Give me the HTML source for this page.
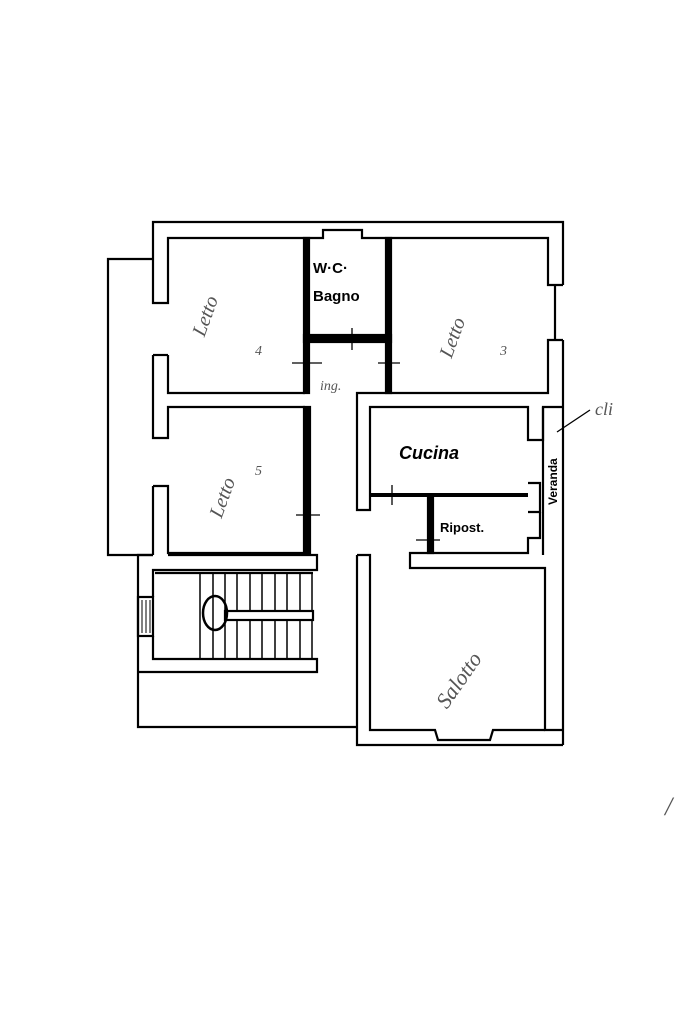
<!DOCTYPE html>
<html><head><meta charset="utf-8"><style>
html,body{margin:0;padding:0;background:#fff;}
svg{display:block}
text{font-family:"Liberation Sans",sans-serif;font-weight:bold;fill:#000}
.h{font-family:"Liberation Serif",serif;font-style:italic;font-weight:normal;fill:#555}
</style></head><body>
<svg width="683" height="1023" viewBox="0 0 683 1023" xmlns="http://www.w3.org/2000/svg">
<g fill="none" stroke="#000" stroke-width="2.2" stroke-linejoin="miter">
<!-- balcony left -->
<polyline points="153,259 108,259 108,555 153,555"/>
<!-- outer top / left walls -->
<polyline points="153,259 153,222 563,222 563,285"/>
<polyline points="153,259 153,303 168,303 168,238 305,238"/>
<polyline points="168,238 168,0" stroke="none"/>
<!-- window top (WC) -->
<polyline points="305,238 323,238 323,230 362,230 362,238 390,238"/>
<polyline points="390,238 548,238 548,285 563,285"/>
<line x1="555" y1="285" x2="555" y2="340"/>
<polyline points="563,340 548,340 548,393 390,393"/>
<polyline points="563,340 563,555"/>
<!-- left wall openings -->
<polyline points="153,355 153,438 168,438 168,407 305,407"/>
<polyline points="168,355 168,393 305,393"/>
<line x1="153" y1="355" x2="168" y2="355"/>
<polyline points="153,486 168,486 168,553 305,553"/>
<line x1="153" y1="486" x2="153" y2="555"/>
<!-- WC walls -->
<rect x="304" y="238" width="5" height="155" fill="#000"/>
<rect x="386" y="238" width="5" height="155" fill="#000"/>
<rect x="304" y="335" width="87" height="7" fill="#000"/>
<rect x="304" y="407" width="6" height="146" fill="#000"/>
<!-- corridor / cucina -->
<polyline points="390,393 357,393 357,510 370,510 370,407 528,407 528,440 543,440 543,407 563,407"/>
<line x1="370" y1="495" x2="528" y2="495" stroke-width="4"/>
<rect x="428" y="497" width="5" height="56" fill="#000"/>
<polyline points="528,483 540,483 540,512 528,512"/>
<line x1="543" y1="407" x2="543" y2="555"/>
<polyline points="540,512 540,538 528,538 528,553 410,553 410,568 545,568 545,730 563,730"/>
<line x1="563" y1="555" x2="563" y2="745"/>
<!-- lower left stairs block -->
<polyline points="153,555 138,555 138,727 357,727"/>
<polyline points="168,555 317,555 317,570 153,570 153,597"/>
<polyline points="153,636 153,659 317,659 317,672 138,672"/>
<rect x="138" y="597" width="15" height="39"/>
<line x1="142" y1="600" x2="142" y2="633" stroke-width="1"/>
<line x1="146" y1="600" x2="146" y2="633" stroke-width="1"/>
<line x1="150" y1="600" x2="150" y2="633" stroke-width="1"/>
<polyline points="155,573 313,573"/>
<g stroke-width="1.5">
<line x1="200" y1="573" x2="200" y2="659"/><line x1="213" y1="573" x2="213" y2="659"/>
<line x1="225" y1="573" x2="225" y2="659"/><line x1="237" y1="573" x2="237" y2="659"/>
<line x1="250" y1="573" x2="250" y2="659"/><line x1="262" y1="573" x2="262" y2="659"/>
<line x1="275" y1="573" x2="275" y2="659"/><line x1="287" y1="573" x2="287" y2="659"/>
<line x1="300" y1="573" x2="300" y2="659"/><line x1="312" y1="573" x2="312" y2="659"/>
</g>
<rect x="225" y="611" width="88" height="9" fill="#fff"/>
<ellipse cx="215" cy="613" rx="12" ry="17" stroke-width="2.5"/>
<!-- soggiorno -->
<polyline points="357,555 370,555 370,570 370,730 435,730 438,740 490,740 493,730 545,730"/>
<polyline points="357,555 357,727"/>
<polyline points="357,727 357,745 563,745"/>
<!-- door crosses -->
<g stroke-width="1.3">
<line x1="292" y1="363" x2="322" y2="363"/><line x1="305" y1="352" x2="305" y2="374"/>
<line x1="378" y1="363" x2="400" y2="363"/><line x1="390" y1="352" x2="390" y2="374"/>
<line x1="352" y1="328" x2="352" y2="350"/>
<line x1="296" y1="515" x2="320" y2="515"/>
<line x1="392" y1="485" x2="392" y2="505"/>
<line x1="416" y1="540" x2="440" y2="540"/><line x1="428" y1="528" x2="428" y2="553"/>
<line x1="557" y1="432" x2="590" y2="410"/>
</g>
</g>
<text x="313" y="273" font-size="15">W·C·</text>
<text x="313" y="301" font-size="15">Bagno</text>
<text x="399" y="459" font-size="18" font-style="italic">Cucina</text>
<text x="440" y="532" font-size="13">Ripost.</text>
<text x="557" y="505" font-size="12" transform="rotate(-90 557 505)">Veranda</text>
<text x="595" y="415" font-size="18" class="h" fill="#000">cli</text>
<text x="185" y="330" font-size="20" class="h" transform="rotate(-70 200 320)">Letto</text>
<text x="255" y="355" font-size="14" class="h">4</text>
<text x="410" y="360" font-size="20" class="h" transform="rotate(-70 430 330)">Letto</text>
<text x="500" y="355" font-size="14" class="h">3</text>
<text x="180" y="520" font-size="20" class="h" transform="rotate(-70 200 490)">Letto</text>
<text x="255" y="475" font-size="14" class="h">5</text>
<text x="395" y="690" font-size="22" class="h" transform="rotate(-55 440 650)">Salotto</text>
<text x="320" y="390" font-size="14" class="h">ing.</text>
<text x="665" y="815" font-size="26" class="h" fill="#000">/</text>
</svg>
</body></html>
